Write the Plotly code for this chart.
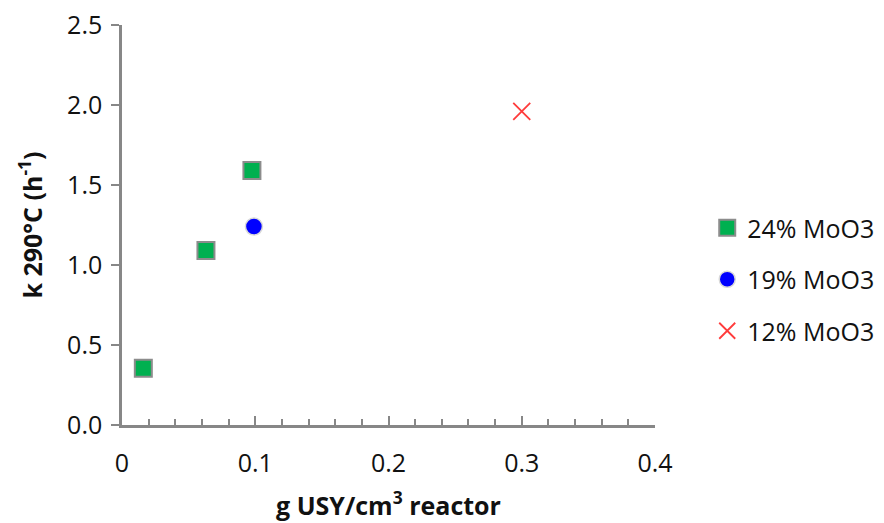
import plotly.graph_objects as go

x24 = [0.016, 0.063, 0.0975]
y24 = [0.355, 1.09, 1.59]
x19 = [0.099]
y19 = [1.24]
x12 = [0.30]
y12 = [1.96]

FONT = "Open Sans"
AX = "#878787"
FS = 25

fig = go.Figure()
fig.add_trace(go.Scatter(x=x24, y=y24, mode="markers", name="24% MoO3", legendgroup="a",
                         marker=dict(symbol="square", size=17, color="#00B050",
                                     line=dict(color="#8C8C8C", width=2))))
fig.add_trace(go.Scatter(x=x19, y=y19, mode="markers", name="19% MoO3", legendgroup="b",
                         marker=dict(symbol="circle", size=17, color="#0000FF",
                                     line=dict(color="#D9D9D9", width=1.5))))
fig.add_trace(go.Scatter(x=x12, y=y12, mode="markers", name="12% MoO3", legendgroup="c",
                         marker=dict(symbol="x-thin-open", size=17, color="#FF3B3B",
                                     line=dict(color="#FF3B3B", width=1.8))))

fig.update_layout(
    width=884, height=523,
    margin=dict(l=122, r=229, t=25, b=98, autoexpand=False),
    paper_bgcolor="white", plot_bgcolor="white",
    font=dict(family=FONT, size=FS, color="#111111"),
    showlegend=True,
    legend=dict(x=1.098, y=0.55, xanchor="left", yanchor="top",
                font=dict(size=FS, family=FONT), tracegroupgap=16,
                itemwidth=30, bgcolor="rgba(0,0,0,0)"),
    xaxis=dict(range=[0, 0.4], tickvals=[0, 0.1, 0.2, 0.3, 0.4],
               ticktext=["0", "0.1", "0.2", "0.3", "0.4"],
               showgrid=False, zeroline=False, showline=True, linecolor=AX, linewidth=2.5,
               ticks="inside", ticklen=9, tickwidth=2, tickcolor=AX,
               minor=dict(dtick=0.02, ticks="inside", ticklen=6, tickwidth=2, tickcolor=AX, showgrid=False),
               tickfont=dict(size=FS, family=FONT), ticklabelstandoff=14,
               title=dict(text="<b>g USY/cm<sup>3</sup> reactor</b>", font=dict(size=FS, family=FONT),
                          standoff=20)),
    yaxis=dict(range=[0, 2.5], dtick=0.5, tickformat=".1f",
               showgrid=False, zeroline=False, showline=True, linecolor=AX, linewidth=2.5,
               ticks="outside", ticklen=8, tickwidth=2, tickcolor=AX,
               tickfont=dict(size=FS, family=FONT), ticklabelstandoff=4,
               title=dict(text="<b>k 290°C (h<sup>-1</sup>)</b>", font=dict(size=FS, family=FONT),
                          standoff=18)),
)

fig.write_html("out.html")
